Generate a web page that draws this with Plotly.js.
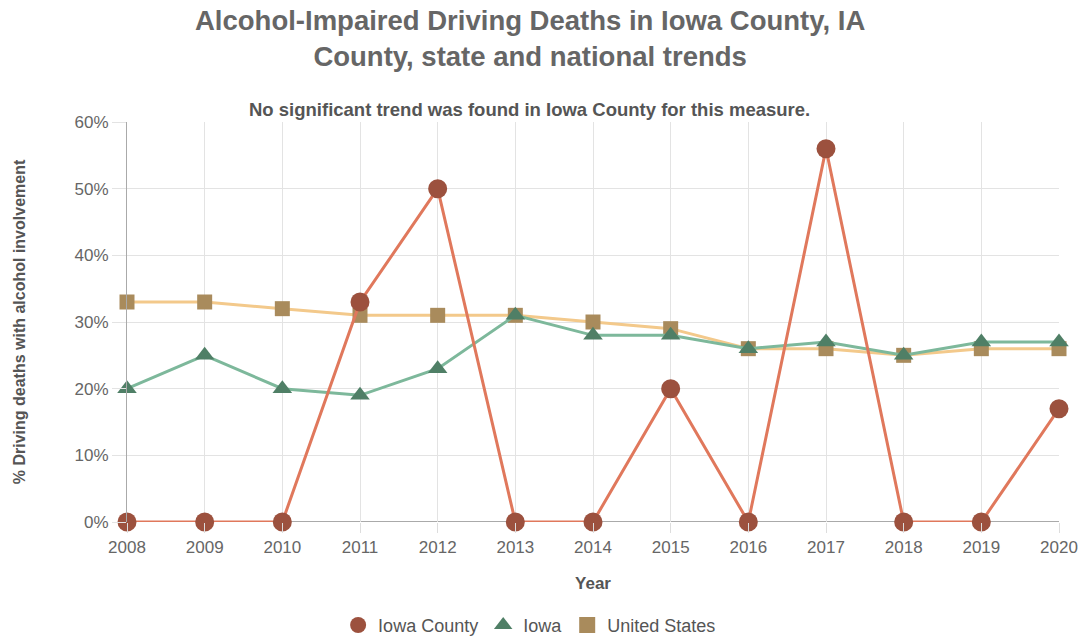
<!DOCTYPE html>
<html>
<head>
<meta charset="utf-8">
<script src="https://cdn.plot.ly/plotly-3.0.1.min.js"></script>
<style>
  html, body { margin: 0; padding: 0; background: #fff; }
  #chart { width: 1086px; height: 640px; }
</style>
</head>
<body>
<div id="chart"></div>
<script>
// Years on the x axis
const years = [2008, 2009, 2010, 2011, 2012, 2013, 2014, 2015, 2016, 2017, 2018, 2019, 2020];

// % of driving deaths with alcohol involvement
const iowaCounty = [0, 0, 0, 33, 50, 0, 0, 20, 0, 56, 0, 0, 17];
const iowaState = [20, 25, 20, 19, 23, 31, 28, 28, 26, 27, 25, 27, 27];
const unitedStates = [33, 33, 32, 31, 31, 31, 30, 29, 26, 26, 25, 26, 26];

const yTicks = [0, 10, 20, 30, 40, 50, 60];
const yTickText = yTicks.map(v => v + '%');

const fontFamily = 'Arial, "Liberation Sans", sans-serif';

const colors = {
    countyLine: '#e0785c', countyMarker: '#9c513e',
    iowaLine: '#7db89b', iowaMarker: '#4f7f66',
    usLine: '#f3c98b', usMarker: '#a98b5c'
};

const usTrace = {
    x: years, y: unitedStates,
    type: 'scatter', mode: 'lines+markers',
    name: 'United States', showlegend: false, cliponaxis: false,
    line: { color: colors.usLine, width: 3 },
    marker: { symbol: 'square', size: 15, color: colors.usMarker }
};

const iowaTrace = {
    x: years, y: iowaState,
    type: 'scatter', mode: 'lines+markers',
    name: 'Iowa', showlegend: false, cliponaxis: false,
    line: { color: colors.iowaLine, width: 3 },
    marker: { symbol: 'triangle-up', size: 17, color: colors.iowaMarker }
};

const countyTrace = {
    x: years, y: iowaCounty,
    type: 'scatter', mode: 'lines+markers',
    name: 'Iowa County', showlegend: false, cliponaxis: false,
    line: { color: colors.countyLine, width: 3 },
    marker: { symbol: 'circle', size: 19, color: colors.countyMarker }
};

// legend entries show only the marker, no line
function legendEntry(name, symbol, color) {
    return {
        x: [null], y: [null],
        type: 'scatter', mode: 'markers',
        name: name, showlegend: true,
        marker: { symbol: symbol, size: 16, color: color },
        hoverinfo: 'skip'
    };
}

const legendTraces = [
    legendEntry('Iowa County', 'circle', colors.countyMarker),
    legendEntry('Iowa', 'triangle-up', colors.iowaMarker),
    legendEntry('United States', 'square', colors.usMarker)
];

const layout = {
    width: 1086,
    height: 640,
    paper_bgcolor: '#ffffff',
    plot_bgcolor: '#ffffff',
    margin: { l: 127, r: 27, t: 122, b: 118, autoexpand: false },
    font: { family: fontFamily, color: '#666666', size: 16 },
    showlegend: true,
    legend: {
        orientation: 'h',
        xref: 'paper',
        x: 0.432,
        xanchor: 'center',
        yref: 'container',
        y: 0.023,
        yanchor: 'middle',
        font: { size: 18, color: '#555555' },
        itemwidth: 30
    },
    xaxis: {
        range: [2008, 2020],
        tickvals: years,
        ticktext: years.map(String),
        automargin: false,
        showgrid: true,
        gridcolor: '#e3e3e3',
        gridwidth: 1,
        ticks: 'outside',
        ticklen: 10,
        tickcolor: '#dddddd',
        tickfont: { size: 17, color: '#666666' },
        showline: false,
        zeroline: false,
        title: { text: 'Year', font: { size: 17, color: '#555555', family: fontFamily, weight: 'bold' }, standoff: 20 }
    },
    yaxis: {
        range: [0, 60],
        tickvals: yTicks,
        ticktext: yTickText,
        automargin: false,
        showgrid: true,
        gridcolor: '#e3e3e3',
        gridwidth: 1,
        ticks: 'outside',
        ticklen: 14,
        tickcolor: '#e3e3e3',
        tickfont: { size: 17, color: '#666666' },
        showline: true,
        linecolor: '#aaaaaa',
        linewidth: 1,
        zeroline: false,
        title: { text: '% Driving deaths with alcohol involvement', font: { size: 16, color: '#555555', family: fontFamily, weight: 'bold' }, standoff: 44 }
    },
    shapes: [
        {
            type: 'line', xref: 'paper', yref: 'y',
            x0: 0, x1: 1, y0: 0, y1: 0,
            line: { color: '#aaaaaa', width: 2 },
            layer: 'below'
        }
    ],
    annotations: [
        {
            xref: 'paper', yref: 'paper',
            x: 0.432, y: 1.21,
            xanchor: 'center', yanchor: 'middle',
            showarrow: false,
            text: '<b>Alcohol-Impaired Driving Deaths in Iowa County, IA<br>County, state and national trends</b>',
            font: { size: 27.5, color: '#666666', family: fontFamily }
        },
        {
            xref: 'paper', yref: 'paper',
            x: 0.432, y: 1.03,
            xanchor: 'center', yanchor: 'middle',
            showarrow: false,
            text: '<b>No significant trend was found in Iowa County for this measure.</b>',
            font: { size: 18.5, color: '#555555', family: fontFamily }
        }
    ]
};

Plotly.newPlot('chart', [usTrace, iowaTrace, countyTrace].concat(legendTraces), layout, { displayModeBar: false, staticPlot: true });
</script>
</body>
</html>
